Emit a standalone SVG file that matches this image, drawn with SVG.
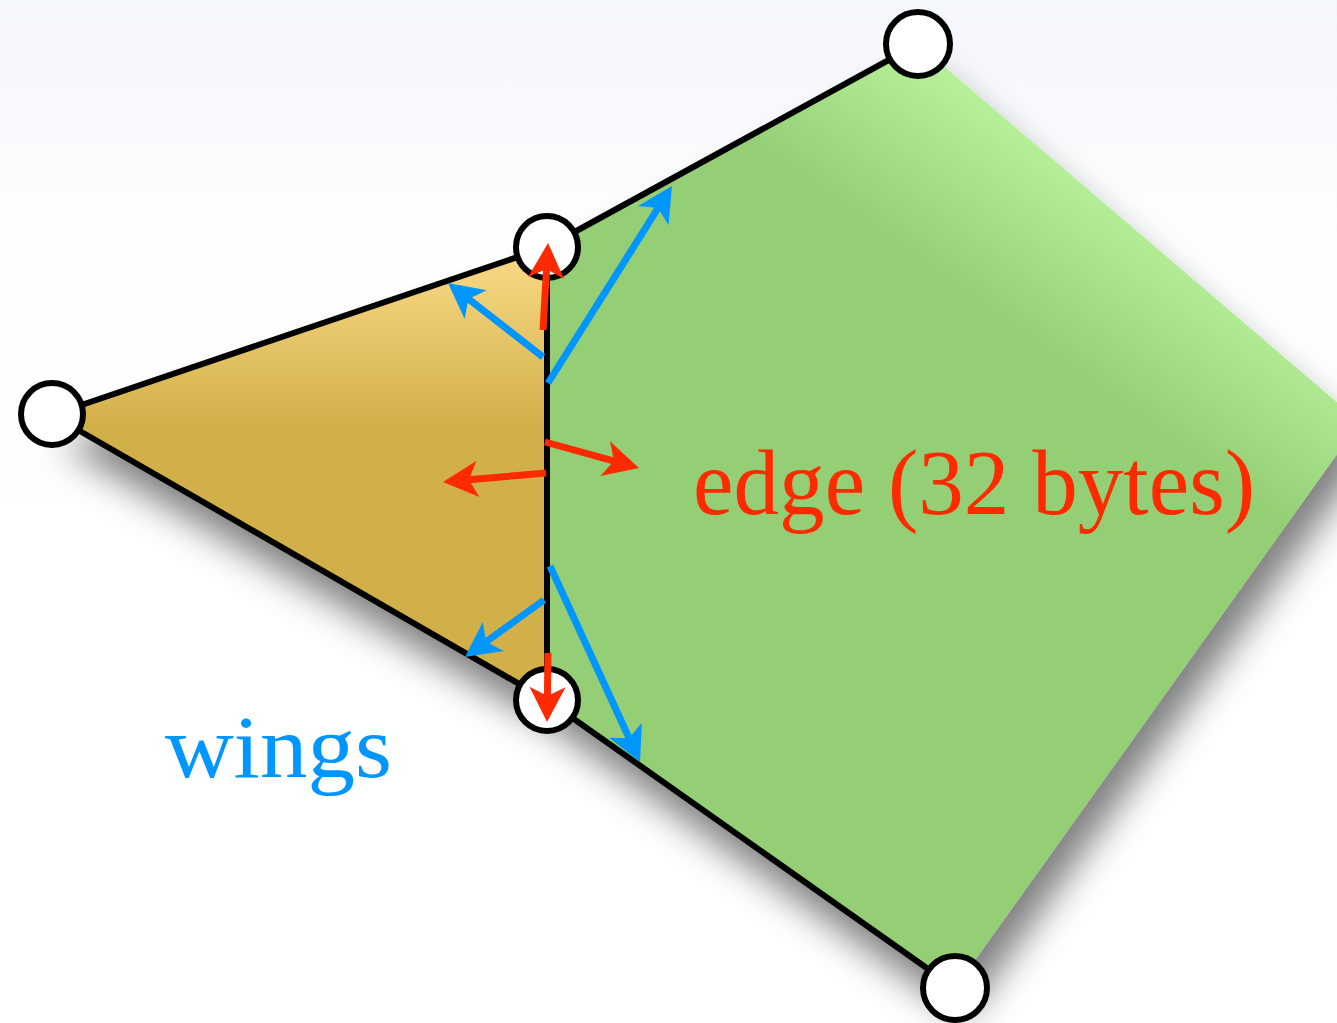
<svg xmlns="http://www.w3.org/2000/svg" width="1337" height="1023" viewBox="0 0 1337 1023">
  <defs>
    <linearGradient id="bg" x1="0" y1="0" x2="0" y2="1">
      <stop offset="0" stop-color="#f3f6fb"/>
      <stop offset="0.25" stop-color="#fdfefe"/>
      <stop offset="1" stop-color="#ffffff"/>
    </linearGradient>
    <linearGradient id="orange" gradientUnits="userSpaceOnUse" x1="0" y1="275" x2="0" y2="430">
      <stop offset="0" stop-color="#f4d47e"/>
      <stop offset="1" stop-color="#d1af48"/>
    </linearGradient>
    <linearGradient id="green" gradientUnits="userSpaceOnUse" x1="1110" y1="190" x2="1010" y2="330">
      <stop offset="0" stop-color="#b6f099"/>
      <stop offset="1" stop-color="#94ce75"/>
    </linearGradient>
    <filter id="shadow" x="-20%" y="-20%" width="140%" height="150%">
      <feGaussianBlur in="SourceAlpha" stdDeviation="18"/>
      <feOffset dx="10" dy="30" result="b"/>
      <feFlood flood-color="#000" flood-opacity="0.5"/>
      <feComposite in2="b" operator="in" result="s"/>
      <feMerge>
        <feMergeNode in="s"/>
        <feMergeNode in="SourceGraphic"/>
      </feMerge>
    </filter>
    <marker id="headRed" markerUnits="userSpaceOnUse" orient="auto" refX="0" refY="0" markerWidth="80" markerHeight="80" overflow="visible">
      <path d="M20,0 L-15,-18 L-6,0 L-15,18 Z" fill="#ff2a00"/>
    </marker>
    <marker id="headBlue" markerUnits="userSpaceOnUse" orient="auto" refX="0" refY="0" markerWidth="80" markerHeight="80" overflow="visible">
      <path d="M20,0 L-15,-18 L-6,0 L-15,18 Z" fill="#0096ff"/>
    </marker>
  </defs>
  <style>
    .edge { stroke: #000; stroke-width: 6; stroke-linecap: round; fill: none; }
    .vertex { fill: #fff; stroke: #000; stroke-width: 6; }
    .red { stroke: #ff2a00; stroke-width: 7; fill: none; marker-end: url(#headRed); }
    .blue { stroke: #0096ff; stroke-width: 7; fill: none; marker-end: url(#headBlue); }
    .label { font-family: "Liberation Serif", "DejaVu Serif", serif; }
  </style>

  <rect x="0" y="0" width="1337" height="1023" fill="url(#bg)"/>

  <g id="faces" filter="url(#shadow)">
    <polygon id="face-left" points="52,415 547,247 547,700" fill="url(#orange)"/>
    <polygon id="face-right" points="547,247 918,44 1360,422 955,988 547,700" fill="url(#green)"/>
  </g>

  <g id="connectors">
    <line class="edge" x1="52" y1="415" x2="547" y2="247"/>
    <line class="edge" x1="52" y1="415" x2="547" y2="700"/>
    <line class="edge" x1="547" y1="247" x2="547" y2="700"/>
    <line class="edge" x1="547" y1="247" x2="918" y2="44"/>
    <line class="edge" x1="547" y1="700" x2="955" y2="988"/>
  </g>

  <g id="v-left"><circle class="vertex" cx="52" cy="414" r="31"/></g>
  <g id="v-top"><circle class="vertex" cx="547" cy="247" r="31"/></g>
  <g id="v-bottom"><circle class="vertex" cx="547" cy="700" r="31"/></g>
  <g id="v-topright"><circle class="vertex" cx="918" cy="44" r="32"/></g>
  <g id="v-bottomright"><circle class="vertex" cx="955" cy="988" r="32"/></g>

  <g id="wing-arrows">
    <line class="blue" x1="543" y1="357" x2="463.8" y2="295.3"/>
    <line class="blue" x1="548" y1="383" x2="661.3" y2="202.9"/>
    <line class="blue" x1="544" y1="600" x2="481.2" y2="645.3"/>
    <line class="blue" x1="550" y1="566" x2="631.7" y2="743.8"/>
  </g>
  <g id="edge-arrows">
    <line class="red" x1="543" y1="330" x2="546.9" y2="263"/>
    <line class="red" x1="545" y1="442" x2="619.7" y2="462.7"/>
    <line class="red" x1="546" y1="473" x2="462.9" y2="480.3"/>
    <line class="red" x1="548" y1="653" x2="547.3" y2="702"/>
  </g>

  <g id="label-edge">
    <text class="label" x="693" y="514" font-size="94" fill="#ff2a00" textLength="562" lengthAdjust="spacingAndGlyphs">edge (32 bytes)</text>
  </g>
  <g id="label-wings">
    <text class="label" x="165" y="777" font-size="88" fill="#0096ff" textLength="227" lengthAdjust="spacingAndGlyphs">wings</text>
  </g>
</svg>
